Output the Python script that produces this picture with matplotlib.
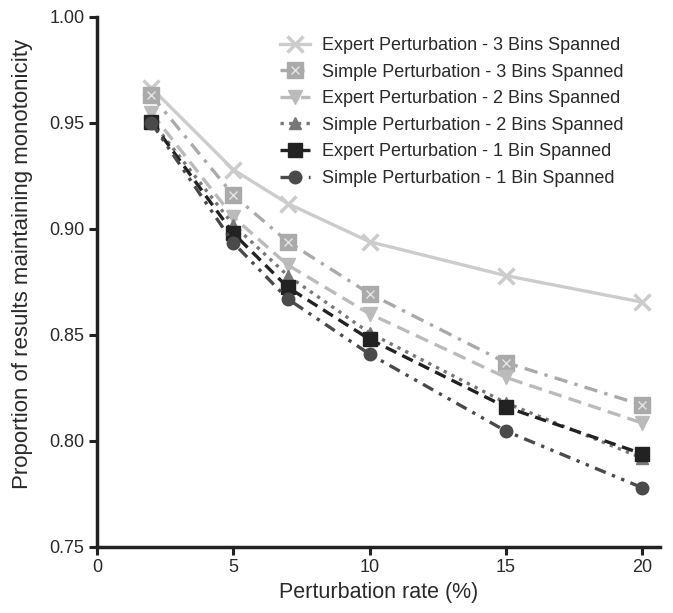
import matplotlib
matplotlib.use("Agg")
import matplotlib.pyplot as plt
from matplotlib.legend_handler import HandlerTuple

plt.rcParams['font.family'] = ['Liberation Sans', 'DejaVu Sans']

rates = [2, 5, 7, 10, 15, 20]
expert_3 = [0.9665, 0.928, 0.912, 0.894, 0.878, 0.8655]
simple_3 = [0.963, 0.916, 0.894, 0.8695, 0.837, 0.817]
expert_2 = [0.9547, 0.9057, 0.883, 0.860, 0.830, 0.8085]
simple_2 = [0.951, 0.902, 0.878, 0.851, 0.818, 0.792]
expert_1 = [0.9505, 0.898, 0.8725, 0.848, 0.816, 0.794]
simple_1 = [0.950, 0.8935, 0.867, 0.841, 0.8047, 0.778]

labels = ["Expert Perturbation - 3 Bins Spanned",
          "Simple Perturbation - 3 Bins Spanned",
          "Expert Perturbation - 2 Bins Spanned",
          "Simple Perturbation - 2 Bins Spanned",
          "Expert Perturbation - 1 Bin Spanned",
          "Simple Perturbation - 1 Bin Spanned"]

fig = plt.figure(figsize=(6.73, 6.13), dpi=100)
ax = fig.add_axes([0.1441, 0.1077, 0.8366, 0.8646])

lw = 2.4
h1, = ax.plot(rates, expert_3, color='#cccccc', lw=lw, ls='-', marker='x',
              ms=11, mew=2.5, zorder=2)
h2, = ax.plot(rates, simple_3, color='#aaaaaa', lw=lw, ls=(0, (4, 2.2, 1, 2.2)),
              marker='s', ms=11, mec='#aaaaaa', mfc='#aaaaaa', zorder=3)
h2x, = ax.plot(rates, simple_3, ls='none', marker='x', ms=6, mew=1.0,
               color='#e4e4e4', zorder=3.5)
h3, = ax.plot(rates, expert_2, color='#bbbbbb', lw=lw, ls=(0, (4, 2.2)),
              marker='v', ms=10, zorder=4)
h4, = ax.plot(rates, simple_2, color='#777777', lw=lw, ls=(0, (1, 1.6)),
              marker='^', ms=9, zorder=5)
h5, = ax.plot(rates, expert_1, color='#222222', lw=lw, ls=(0, (3.5, 2)),
              marker='s', ms=10, zorder=6)
h6, = ax.plot(rates, simple_1, color='#4a4a4a', lw=lw, ls=(0, (3.5, 2, 1, 2, 1, 2)),
              marker='o', ms=9, zorder=7)

ax.set_xlim(0, 20.66)
ax.set_ylim(0.75, 1.0)
ax.set_xticks([0, 5, 10, 15, 20])
ax.set_yticks([0.75, 0.80, 0.85, 0.90, 0.95, 1.00])
ax.set_yticklabels(['0.75', '0.80', '0.85', '0.90', '0.95', '1.00'])

for s in ['top', 'right']:
    ax.spines[s].set_visible(False)
for s in ['left', 'bottom']:
    ax.spines[s].set_linewidth(2.5)
    ax.spines[s].set_color('#222222')
ax.tick_params(axis='both', width=2.2, length=6, color='#222222',
               labelsize=13, labelcolor='#2a2a2a', pad=3)

ax.set_xlabel('Perturbation rate (%)', fontsize=15.5, color='#2a2a2a', labelpad=4)
ax.set_ylabel('Proportion of results maintaining monotonicity', fontsize=16,
              color='#2a2a2a')
ax.yaxis.set_label_coords(-0.114, 0.534)

leg = fig.legend([h1, (h2, h2x), h3, h4, h5, h6], labels,
                 handler_map={tuple: HandlerTuple(ndivide=1, pad=0)},
                 loc='upper left', bbox_to_anchor=(280 / 673, 1 - 37 / 613),
                 frameon=False, borderpad=0, borderaxespad=0,
                 fontsize=13, handlelength=1.65, handletextpad=0.65,
                 labelspacing=0.53, labelcolor='#2a2a2a')

fig.savefig('out.png', dpi=100)
